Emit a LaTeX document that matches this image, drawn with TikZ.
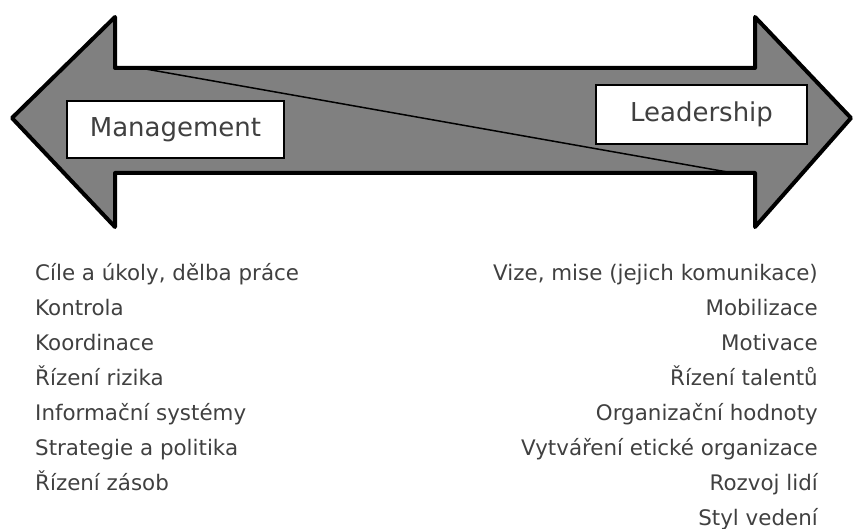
\documentclass[tikz,border=0pt]{standalone}
\usepackage{fontspec}
\setmainfont{DejaVu Sans}
\usetikzlibrary{positioning}
\definecolor{txtgray}{HTML}{404040}
\definecolor{arrowgray}{HTML}{808080}

\begin{document}
\begin{tikzpicture}[x=1pt,y=-1pt]
      \tikzstyle{lbox} = [draw=black, fill=white, line width=1.5pt, minimum height=57pt, inner sep=0pt, text=txtgray, font=\fontsize{26}{30}\selectfont]
      \tikzstyle{item} = [inner sep=0pt, text=txtgray, font=\fontsize{21.4}{25}\selectfont]
      \useasboundingbox (0,0) rectangle (853,529);

      \draw[line width=4pt, line join=round, fill=arrowgray] (12,118) -- (115,17) -- (115,68) -- (755,68) -- (755,17) -- (851,118) -- (755,227) -- (755,173) -- (115,173) -- (115,227) -- cycle;
      \coordinate (d1) at (140,68);
      \coordinate (d2) at (733,173);
      \draw[line width=1.5pt] (d1) -- (d2);

      \node[lbox, minimum width=217pt] (mgmt) at (175.5,129.5) {Management};
      \node[lbox, minimum width=211pt, minimum height=59pt] (lead) at (701.5,114.5) {Leadership};

      \foreach \t [count=\i from 0] in {{Cíle a úkoly, dělba práce}, Kontrola, Koordinace, Řízení rizika, Informační systémy, Strategie a politika, Řízení zásob}
        \node[item, anchor=base west] (m\i) at (35,{280+35*\i}) {\t};
      \foreach \t [count=\i from 0] in {{Vize, mise (jejich komunikace)}, Mobilizace, Motivace, Řízení talentů, Organizační hodnoty, Vytváření etické organizace, Rozvoj lidí, Styl vedení}
        \node[item, anchor=base east] (l\i) at (818,{280+35*\i}) {\t};
\end{tikzpicture}
\end{document}
